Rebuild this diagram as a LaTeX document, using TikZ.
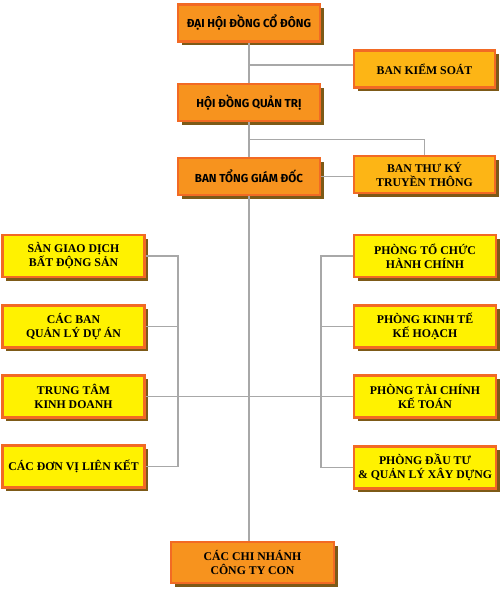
\documentclass[tikz,border=0pt]{standalone}
\usepackage{fontspec}
\setmainfont{Liberation Serif}
\newfontfamily\headfont{Fira Sans}
\usetikzlibrary{positioning,calc,shadows}
\definecolor{boxorange}{HTML}{F7931E}
\definecolor{rimorange}{HTML}{F26A24}
\definecolor{boxamber}{HTML}{FDB515}
\definecolor{boxyellow}{HTML}{FFF200}
\definecolor{shadowbrown}{HTML}{7D5A17}
\definecolor{linegray}{HTML}{A8A8A8}
\tikzset{
    every node/.style={font=\bfseries\fontsize{11.8}{14}\selectfont,align=center,inner sep=2pt},
    orgbox/.style={draw=rimorange,line width=2.2pt,
        drop shadow={shadow xshift=3.5pt,shadow yshift=-3.5pt,fill=shadowbrown,opacity=1}},
    headbox/.style={orgbox,fill=boxorange,minimum width=142,minimum height=37,
        font=\headfont\bfseries\fontsize{11.6}{13}\selectfont},
    sidebox/.style={orgbox,fill=boxamber,minimum width=141,minimum height=37},
    unitbox/.style={orgbox,fill=boxyellow,minimum width=142,minimum height=42},
    link/.style={draw=linegray,line width=1.5pt}
}
\begin{document}
\begin{tikzpicture}[x=1pt,y=-1pt]
\useasboundingbox (0,0) rectangle (500,594);
% top of the chart
\node[headbox] (dhd) at (249,23) {ĐẠI HỘI ĐỒNG CỔ ĐÔNG};
\node[headbox] (hdqt) at (249,102.5) {HỘI ĐỒNG QUẢN TRỊ};
\node[headbox] (btgd) at (249,176.5) {BAN TỔNG GIÁM ĐỐC};
\node[sidebox] (bks) at (424.5,69) {BAN KIỂM SOÁT};
\node[sidebox] (btk) at (424.5,174.5) {BAN THƯ KÝ\\TRUYỀN THÔNG};
% left column
\node[unitbox] (san) at (73.5,256) {SÀN GIAO DỊCH\\BẤT ĐỘNG SẢN};
\node[unitbox] (qlda) at (73.5,326.5) {CÁC BAN\\QUẢN LÝ DỰ ÁN};
\node[unitbox] (ttkd) at (73.5,396.5) {TRUNG TÂM\\KINH DOANH};
\node[unitbox] (dvlk) at (73.5,466.5) {CÁC ĐƠN VỊ LIÊN KẾT};
% right column
\node[unitbox] (tchc) at (425,256) {PHÒNG TỔ CHỨC\\HÀNH CHÍNH};
\node[unitbox] (ktkh) at (425,326.5) {PHÒNG KINH TẾ\\KẾ HOẠCH};
\node[unitbox] (tckt) at (425,396.5) {PHÒNG TÀI CHÍNH\\KẾ TOÁN};
\node[unitbox] (dtxd) at (425,467.5) {PHÒNG ĐẦU TƯ\\\& QUẢN LÝ XÂY DỰNG};
% bottom
\node[headbox,font=\bfseries\fontsize{11.8}{14}\selectfont,minimum width=163,minimum height=41]
    (cncon) at (252.5,562.5) {CÁC CHI NHÁNH\\CÔNG TY CON};

% connectors
\draw[link] (dhd) -- (hdqt);
\draw[link] (hdqt) -- (btgd);
\draw[link] (btgd.south) -- (btgd.south |- cncon.north);
\draw[link] ([yshift=4pt]bks.west) -- ([yshift=4pt]bks.west -| dhd.south);
\coordinate (split) at ($(hdqt.south)!0.5!(btgd.north)$);
\draw[link] (split) -| (btk.north);
\draw[link] (btgd.east) -- (btgd.east -| btk.west);
\coordinate (lbus) at (178,0);
\coordinate (rbus) at (321,0);
\draw[link] (san.east) -| (dvlk.east -| lbus) -- (dvlk.east);
\draw[link] (tchc.west) -| (dtxd.west -| rbus) -- (dtxd.west);
\foreach \n in {qlda} \draw[link] (\n.east) -- (\n.east -| lbus);
\foreach \n in {ktkh} \draw[link] (\n.west) -- (\n.west -| rbus);
\draw[link] (ttkd.east) -- (tckt.west);
\end{tikzpicture}
\end{document}
